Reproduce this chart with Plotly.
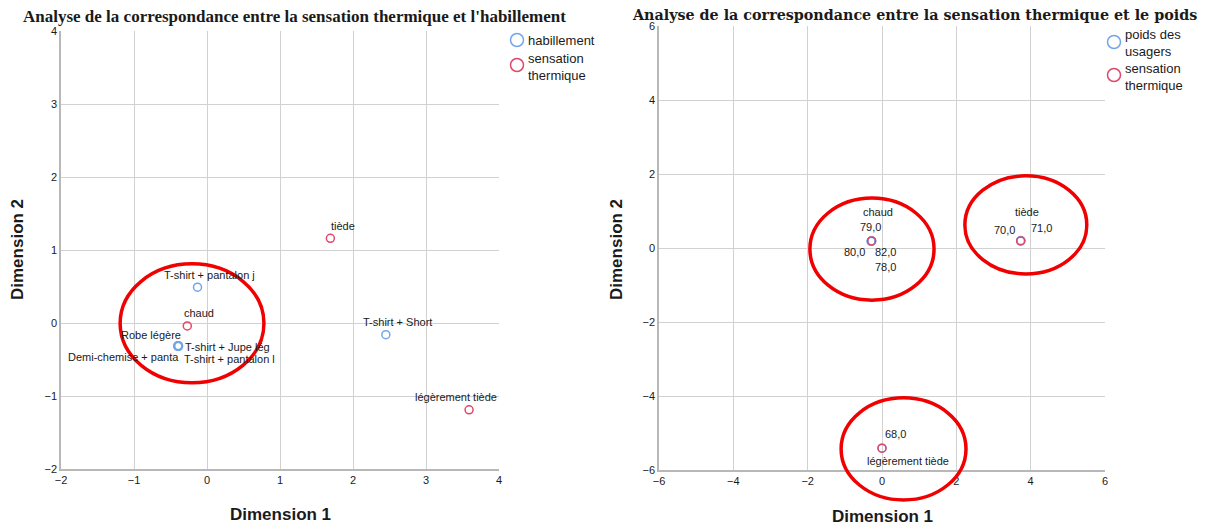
import plotly.graph_objects as go

W, H = 1207, 526          # browser window (reference pixels)
OFF = 8                   # default page body margin
FW, FH = W - OFF, H - OFF # figure size

# ---------------- data: left chart (clothing) ----------------
clothing_labels = ["T-shirt + pantalon j", "T-shirt + Short", "Robe légère",
                   "Demi-chemise + panta", "T-shirt + Jupe lég", "T-shirt + pantalon l"]
clothing_x = [-0.13, 2.45, -0.39, -0.40, -0.39, -0.40]
clothing_y = [0.49, -0.16, -0.31, -0.32, -0.32, -0.31]
thermal1_labels = ["tiède", "légèrement tiède", "chaud"]
thermal1_x = [1.69, 3.59, -0.27]
thermal1_y = [1.16, -1.19, -0.04]

# ---------------- data: right chart (weight) ----------------
weight_labels = ["79,0", "80,0", "82,0", "78,0", "70,0", "71,0", "68,0"]
weight_x = [-0.28, -0.29, -0.28, -0.29, 3.73, 3.74, 0.00]
weight_y = [0.19, 0.18, 0.19, 0.18, 0.19, 0.20, -5.41]
thermal2_labels = ["chaud", "tiède", "légèrement tiède"]
thermal2_x = [-0.28, 3.73, 0.00]
thermal2_y = [0.19, 0.19, -5.41]

# axes
x1_ticks = [-2, -1, 0, 1, 2, 3, 4]
y1_ticks = [-2, -1, 0, 1, 2, 3, 4]
x2_ticks = [-6, -4, -2, 0, 2, 4, 6]
y2_ticks = [-6, -4, -2, 0, 2, 4, 6]

BLUE = "#72a6e8"
RED = "#df4868"
TXT = "#1a1a1a"
SANS = "Liberation Sans, Arial"

# domains (reference pixel layout)
dom = {
    "x": (61, 499), "y": (31, 469),
    "x2": (659, 1105), "y2": (26, 470),
}
rng = {"x": (-2, 4), "y": (-2, 4), "x2": (-6, 6), "y2": (-6, 6)}


def px(xp, yp):
    """reference pixel -> paper coordinates"""
    return (xp - OFF) / FW, 1 - (yp - OFF) / FH


fig = go.Figure()

marker_b = dict(symbol="circle-open", size=8, color=BLUE, line=dict(width=1.5, color=BLUE))
marker_r = dict(symbol="circle-open", size=8, color=RED, line=dict(width=1.5, color=RED))
tfont = dict(family=SANS, size=11, color=TXT)

fig.add_trace(go.Scatter(x=clothing_x, y=clothing_y, mode="markers", marker=marker_b,
                         name="habillement", xaxis="x", yaxis="y"))
fig.add_trace(go.Scatter(x=thermal1_x, y=thermal1_y, mode="markers", marker=marker_r,
                         name="sensation thermique", xaxis="x", yaxis="y"))
fig.add_trace(go.Scatter(x=weight_x, y=weight_y, mode="markers", marker=marker_b,
                         name="poids des usagers", xaxis="x2", yaxis="y2"))
fig.add_trace(go.Scatter(x=thermal2_x, y=thermal2_y, mode="markers", marker=marker_r,
                         name="sensation thermique", xaxis="x2", yaxis="y2"))

# point labels as annotations (offsets in pixels: dx, dy (down positive), anchor)
left_label_off = {
    "T-shirt + pantalon j": (12, -12, "center"),
    "T-shirt + Short": (12, -13, "center"),
    "Robe légère": (-28, -11, "center"),
    "Demi-chemise + panta": (-54, 11, "center"),
    "T-shirt + Jupe lég": (4, 1, "left"),
    "T-shirt + pantalon l": (4, 13, "left"),
    "tiède": (13, -12, "center"),
    "légèrement tiède": (-13, -13, "center"),
    "chaud": (12, -13, "center"),
}
for lab, xx, yy in zip(clothing_labels + thermal1_labels, clothing_x + thermal1_x, clothing_y + thermal1_y):
    dx, dy, al = left_label_off[lab]
    fig.add_annotation(x=xx, y=yy, xref="x", yref="y", text=lab, showarrow=False,
                       xshift=dx, yshift=-dy, xanchor=al, yanchor="middle", font=tfont)

right_label_off = {
    "79,0": (-1, -14), "80,0": (-17, 11), "82,0": (14, 11), "78,0": (14, 26),
    "70,0": (-16, -11), "71,0": (20, -13), "68,0": (13, -14),
    "chaud": (6, -29), "tiède": (6, -29), "légèrement tiède": (26, 13),
}
for lab, xx, yy in zip(weight_labels + thermal2_labels, weight_x + thermal2_x, weight_y + thermal2_y):
    dx, dy = right_label_off[lab]
    fig.add_annotation(x=xx, y=yy, xref="x2", yref="y2", text=lab, showarrow=False,
                       xshift=dx, yshift=-dy, xanchor="center", yanchor="middle", font=tfont)

# red ellipses (data coordinates -> paper so they are not clipped)
ellipses = [
    ("x", "y", -1.19, 0.78, -0.82, 0.81),
    ("x2", "y2", -1.94, 1.40, -1.41, 1.35),
    ("x2", "y2", 2.23, 5.51, -0.70, 1.95),
    ("x2", "y2", -1.10, 2.26, -6.81, -4.05),
]


def data_to_paper(ax, v):
    lo, hi = rng[ax]
    p0, p1 = dom[ax]
    frac = (v - lo) / (hi - lo)
    if ax.startswith("x"):
        return (p0 + frac * (p1 - p0) - OFF) / FW
    return 1 - (p1 - frac * (p1 - p0) - OFF) / FH


for xa, ya, x0, x1, y0, y1 in ellipses:
    fig.add_shape(type="circle", xref="paper", yref="paper",
                  x0=data_to_paper(xa, x0), x1=data_to_paper(xa, x1),
                  y0=data_to_paper(ya, y0), y1=data_to_paper(ya, y1),
                  line=dict(color="#f00000", width=3.5), layer="above")

axis_common = dict(showgrid=True, gridcolor="#d2d2d2", gridwidth=1, zeroline=False,
                   showline=True, linecolor="#b8b8b8", linewidth=1.5, mirror=False,
                   ticks="", tickfont=dict(family=SANS, size=11, color=TXT),
                   fixedrange=True, automargin=False)


def xdom(a):
    return [(dom[a][0] - OFF) / FW, (dom[a][1] - OFF) / FW]


def ydom(a):
    return [1 - (dom[a][1] - OFF) / FH, 1 - (dom[a][0] - OFF) / FH]


fig.update_layout(
    width=FW, height=FH, margin=dict(l=0, r=0, t=0, b=0, autoexpand=False),
    paper_bgcolor="white", plot_bgcolor="white", showlegend=False,
    xaxis=dict(axis_common, domain=xdom("x"), range=list(rng["x"]), tickvals=x1_ticks, anchor="y"),
    yaxis=dict(axis_common, domain=ydom("y"), range=list(rng["y"]), tickvals=y1_ticks, anchor="x"),
    xaxis2=dict(axis_common, domain=xdom("x2"), range=list(rng["x2"]), tickvals=x2_ticks, anchor="y2"),
    yaxis2=dict(axis_common, domain=ydom("y2"), range=list(rng["y2"]), tickvals=y2_ticks, anchor="x2"),
)

# axis titles
title_font = dict(family=SANS, size=17, color=TXT, weight="bold")
for txt, xp, yp, ang in [("Dimension 1", 280, 514, 0), ("Dimension 2", 18, 250, -90),
                         ("Dimension 1", 882, 516, 0), ("Dimension 2", 617, 250, -90)]:
    xx, yy = px(xp, yp)
    fig.add_annotation(text=txt, x=xx, y=yy, xref="paper", yref="paper", showarrow=False,
                       xanchor="center", yanchor="middle", textangle=ang, font=title_font)

# chart titles
for txt, xp, yp, fnt in [
    ("Analyse de la correspondance entre la sensation thermique et l'habillement", 22, 17,
     dict(family="Liberation Serif, Times New Roman", size=17, color=TXT)),
    ("Analyse de la correspondance entre la sensation thermique et le poids", 631, 15,
     dict(family="DejaVu Serif", size=14.3, color=TXT)),
]:
    xx, yy = px(xp, yp)
    fig.add_annotation(text="<b>" + txt + "</b>", x=xx, y=yy, xref="paper", yref="paper",
                       xanchor="left", yanchor="middle", showarrow=False, font=fnt, borderpad=0)

# legends (drawn manually)
legend_items = [
    (517, 40, BLUE, "habillement", 41),
    (517, 65, RED, "sensation<br>thermique", 67),
    (1114, 42, BLUE, "poids des<br>usagers", 43),
    (1114, 75, RED, "sensation<br>thermique", 77),
]
r = 6.5
for cx, cy, col, txt, ty in legend_items:
    x0, y1 = px(cx - r, cy - r)
    x1, y0 = px(cx + r, cy + r)
    fig.add_shape(type="circle", xref="paper", yref="paper", x0=x0, x1=x1, y0=y0, y1=y1,
                  line=dict(color=col, width=1.5))
    xx, yy = px(cx + 9, ty)
    fig.add_annotation(text=txt, x=xx, y=yy, xref="paper", yref="paper", xanchor="left",
                       yanchor="middle", showarrow=False, align="left",
                       font=dict(family=SANS, size=13, color=TXT))

fig.write_html("out.html")
